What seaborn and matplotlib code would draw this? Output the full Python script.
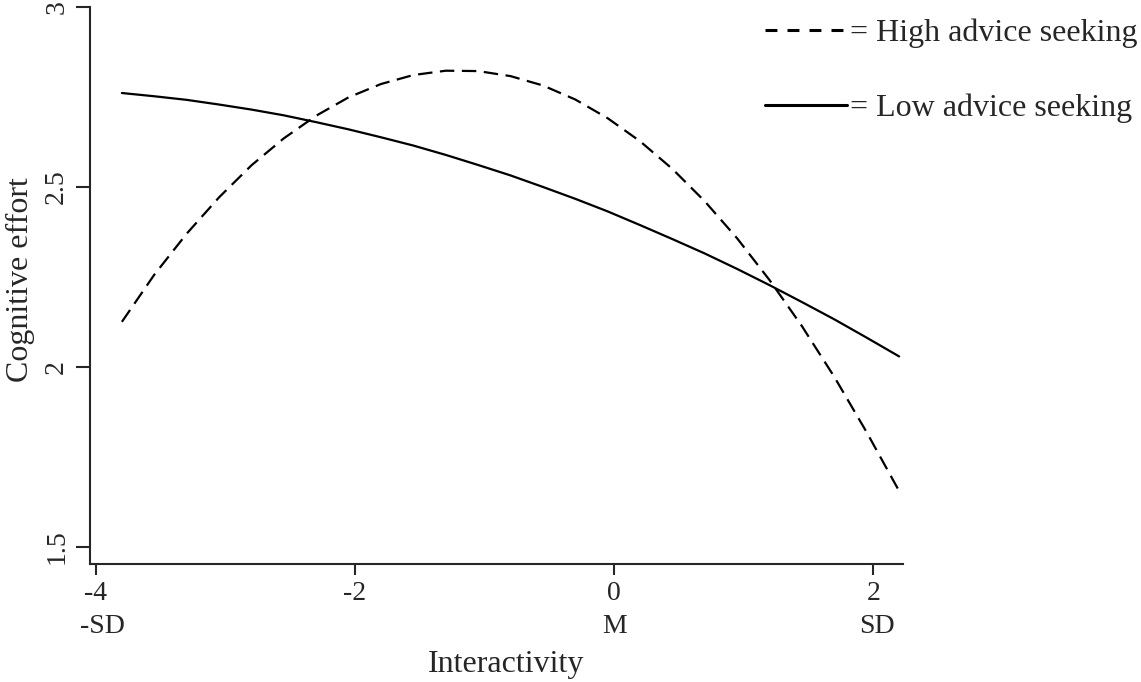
import numpy as np
import pandas as pd
import matplotlib
matplotlib.use("Agg")
import matplotlib.pyplot as plt
import seaborn as sns

# values
interactivity = [-3.8, -3.55, -3.3, -3.05, -2.8, -2.55, -2.3, -2.05, -1.8, -1.55, -1.3, -1.05, -0.8,
                 -0.55, -0.3, -0.05, 0.2, 0.45, 0.7, 0.95, 1.2, 1.45, 1.7, 1.95, 2.2]
high_advice = [2.125, 2.256, 2.370, 2.471, 2.560, 2.635, 2.698, 2.749, 2.786, 2.811, 2.823, 2.822, 2.808,
               2.782, 2.743, 2.691, 2.627, 2.550, 2.460, 2.357, 2.241, 2.113, 1.972, 1.818, 1.655]
low_advice = [2.761, 2.752, 2.742, 2.729, 2.715, 2.699, 2.680, 2.660, 2.638, 2.615, 2.589, 2.561, 2.532,
              2.500, 2.467, 2.432, 2.394, 2.355, 2.315, 2.272, 2.227, 2.180, 2.132, 2.081, 2.029]

x_ticks = [-4, -2, 0, 2]
y_ticks = [1.5, 2, 2.5, 3]
sd_pos = [-3.95, 0, 2.03]
sd_labels = ["-SD", "M", "SD"]
groups = ['= High advice seeking', '= Low advice seeking']

sns.set_style("ticks")
plt.rcParams['font.family'] = ['Liberation Serif', 'DejaVu Serif']

df = pd.DataFrame({
    'Interactivity': interactivity * 2,
    'Cognitive effort': high_advice + low_advice,
    'group': [groups[0]] * len(interactivity) + [groups[1]] * len(interactivity),
})

fig = plt.figure(figsize=(11.41, 6.82), dpi=100)
ax = fig.add_axes([0.0789, 0.173, 0.7125, 0.8167])

sns.lineplot(data=df, x='Interactivity', y='Cognitive effort', hue='group', style='group',
             palette=['black', 'black'], dashes={groups[0]: (6.5, 3.4), groups[1]: ''},
             linewidth=1.6, legend=False, ax=ax)

ax.set_xlim(-4.046, 2.23)
ax.set_ylim(1.452, 3.0)
ax.set_xticks(x_ticks)
ax.set_xticklabels([str(t) for t in x_ticks])
ax.set_yticks(y_ticks)
ax.set_yticklabels([str(t) for t in y_ticks], rotation=90, va='center')
sns.despine(ax=ax)
for s in ['left', 'bottom']:
    ax.spines[s].set_linewidth(1.5)
ax.tick_params(axis='y', length=10, width=1.5, labelsize=20, pad=5)
ax.tick_params(axis='x', length=8, width=1.5, labelsize=20, pad=4)

for p, lab in zip(sd_pos, sd_labels):
    ax.text(p, -0.1126, lab, transform=ax.get_xaxis_transform(), ha='center', va='center', fontsize=20)

ax.set_xlabel('Interactivity', fontsize=23)
ax.xaxis.set_label_coords(0.512, -0.155)
ax.set_ylabel('Cognitive effort', fontsize=23)
ax.yaxis.set_label_coords(-0.068, 0.51)

h_high, = ax.plot([], [], color='black', linestyle=(0, (3.9, 3.3)), linewidth=2.2)
h_low, = ax.plot([], [], color='black', linewidth=2.2)
fig.legend([h_high, h_low], groups,
           loc='upper left', bbox_to_anchor=(0.6594, 0.991), frameon=False,
           fontsize=23, handlelength=2.57, handletextpad=0.1, labelspacing=1.41,
           borderaxespad=0.0)

fig.savefig('out.png', dpi=100)
